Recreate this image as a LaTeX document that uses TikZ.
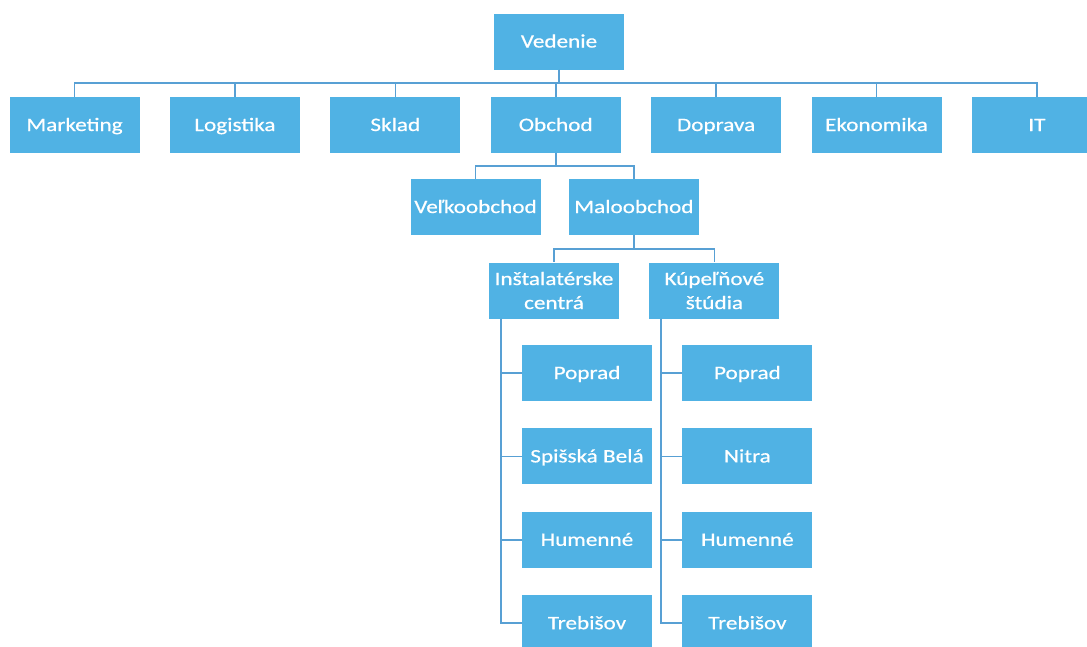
\documentclass[tikz,border=0pt]{standalone}
\usepackage{fontspec}
\setmainfont{Carlito}[FakeStretch=1.22,FakeBold=0.6]
\usetikzlibrary{positioning}
\definecolor{boxblue}{RGB}{80,178,228}
\definecolor{lineblue}{RGB}{88,160,212}

\begin{document}
\begin{tikzpicture}[x=1pt, y=-1pt, twobox/.style={rectangle, fill=boxblue, text=white, minimum width=130pt, minimum height=56pt, inner sep=1pt, align=center, font=\fontsize{19}{24}\selectfont}, box/.style={twobox, text height=12pt, text depth=0pt}, conn/.style={draw=lineblue, line width=1.6pt}, node distance=30pt]
    \useasboundingbox (0,0) rectangle (1087,646);
    \clip (0,0) rectangle (1087,646);

    %Nodes
    \node[box](vedenie) at (559,41.5){Vedenie};
    \node[box](marketing) at (74.5,125){Marketing};
    \node[box](logistika)[right=of marketing]{Logistika};
    \node[box](sklad)[right=of logistika]{Sklad};
    \node[box](obchod)[right=of sklad]{Obchod};
    \node[box](doprava)[right=of obchod]{Doprava};
    \node[box](ekonomika)[right=of doprava]{Ekonomika};
    \node[box](it)[right=of ekonomika]{IT};
    \node[box](velko) at (475.5,207){Veľkoobchod};
    \node[box](malo)[right=28pt of velko]{Maloobchod};
    \node[twobox](instal) at (554,290.5){Inštalatérske\\centrá};
    \node[twobox](kupel)[right=30pt of instal]{Kúpeľňové\\štúdia};
    \node[box](ipoprad) at (587,373){Poprad};
    \node[box](ispisska)[below=27pt of ipoprad]{Spišská Belá};
    \node[box](ihumenne)[below=27pt of ispisska]{Humenné};
    \node[box](itrebisov)[below=27pt of ihumenne]{Trebišov};
    \node[box](kpoprad)[right=30pt of ipoprad]{Poprad};
    \node[box](knitra)[below=27pt of kpoprad]{Nitra};
    \node[box](khumenne)[below=27pt of knitra]{Humenné};
    \node[box](ktrebisov)[below=27pt of khumenne]{Trebišov};

    %Lines
    \foreach \n in {marketing,logistika,sklad,obchod,doprava,ekonomika,it}
        \draw[conn] (vedenie.south) -- ++(0,13.5) -| (\n.north);
    \foreach \n in {velko,malo}
        \draw[conn] (obchod.south) -- ++(0,13) -| (\n.north);
    \foreach \n in {instal,kupel}
        \draw[conn] (malo.south) -- ++(0,14) -| (\n.north);
    \foreach \n in {ipoprad,ispisska,ihumenne,itrebisov}
        \draw[conn] ([xshift=12pt]instal.south west) |- (\n.west);
    \foreach \n in {kpoprad,knitra,khumenne,ktrebisov}
        \draw[conn] ([xshift=12pt]kupel.south west) |- (\n.west);

\end{tikzpicture}
\end{document}
